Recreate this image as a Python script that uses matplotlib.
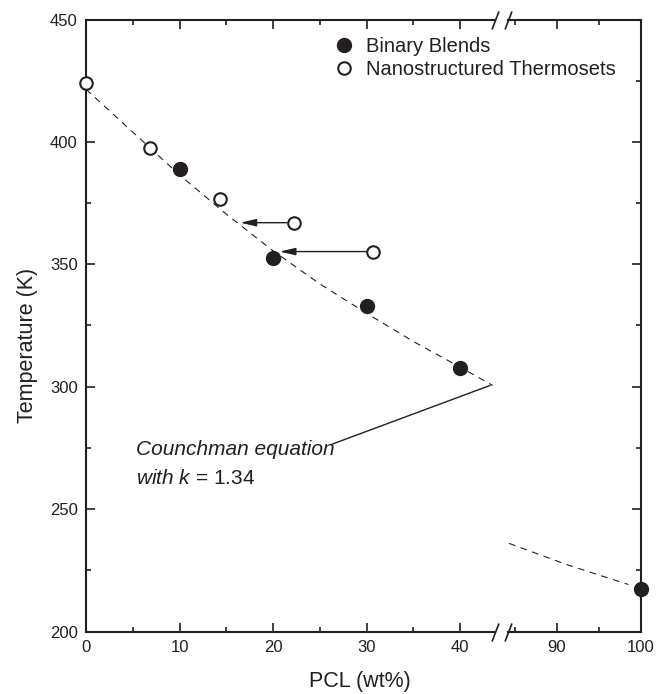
import matplotlib
matplotlib.use("Agg")
import matplotlib.pyplot as plt
import numpy as np
from matplotlib.ticker import MultipleLocator

plt.rcParams["font.family"] = ["Liberation Sans", "DejaVu Sans"]
plt.rcParams["mathtext.fontset"] = "custom"
plt.rcParams["mathtext.it"] = "Liberation Sans:italic"
plt.rcParams["mathtext.rm"] = "Liberation Sans"

INK = "#231f20"

# data
blendPcl = [10, 20, 30, 40, 100]
blendT = [388.8, 352.7, 332.8, 307.5, 217.2]
thermoPcl = [0, 6.8, 14.3, 22.2, 30.7]
thermoT = [424, 397.6, 376.8, 367.0, 355.2]

# Couchman curve (dashed)
curvePclLow = [0, 5, 10, 15, 20, 25, 30, 35, 40, 43.5]
curveTLow = [421.5, 404, 386.5, 370.5, 355.5, 342, 330, 318.5, 308, 300.5]
curvePclHigh = [84.3, 91, 98.5]
curveTHigh = [236, 227.5, 219.2]

# shift arrows: (from, to)
arrowFrom = [(21.5, 367.0), (30.0, 355.2)]
arrowTo = [(16.5, 367.0), (20.7, 355.2)]

xlimLow = (0, 43.74)
xlimHigh = (84.17, 100)

fig = plt.figure(figsize=(6.65, 6.94), dpi=100)
H = 694.0
W = 665.0
bot = 1 - 631.5 / H
hgt = (631.5 - 19.5) / H
axL = fig.add_axes([86 / W, bot, (495 - 86) / W, hgt])
axR = fig.add_axes([508 / W, bot, (641 - 508) / W, hgt], sharey=axL)


def inRange(xs, ys, lim):
    xs = np.asarray(xs)
    ys = np.asarray(ys)
    keep = (xs >= lim[0]) & (xs <= lim[1])
    return xs[keep], ys[keep]


dashStyle = (0, (6, 5))
for ax, lim in ((axL, xlimLow), (axR, xlimHigh)):
    bx, by = inRange(blendPcl, blendT, lim)
    tx, ty = inRange(thermoPcl, thermoT, lim)
    ax.plot(bx, by, "o", color=INK, ms=10, mew=1, clip_on=False,
            label="Binary Blends", zorder=5)
    ax.plot(tx, ty, "o", mfc="white", mec=INK, ms=9, mew=1.5,
            clip_on=False, label="Nanostructured Thermosets", zorder=5)
    for s in ax.spines.values():
        s.set_linewidth(1.5)
        s.set_color(INK)
    ax.tick_params(which="both", direction="in", top=True, right=True,
                   colors=INK, labelsize=12, width=1.2)
    ax.tick_params(which="major", length=6.5, pad=6)
    ax.tick_params(which="minor", length=3.6)
    ax.yaxis.set_major_locator(MultipleLocator(50))
    ax.yaxis.set_minor_locator(MultipleLocator(25))
    ax.xaxis.set_major_locator(MultipleLocator(10))
    ax.xaxis.set_minor_locator(MultipleLocator(5))

axL.plot(curvePclLow, curveTLow, color=INK, lw=0.8, ls=dashStyle, zorder=3)
axR.plot(curvePclHigh, curveTHigh, color=INK, lw=0.8, ls=dashStyle, zorder=3)

axL.set_xlim(*xlimLow)
axR.set_xlim(*xlimHigh)
axL.set_ylim(200, 450)

axL.spines["right"].set_visible(False)
axR.spines["left"].set_visible(False)
axL.tick_params(which="both", right=False)
axR.tick_params(which="both", left=False, labelleft=False)

# break marks
brk = dict(marker=[(-1, -2.6), (1, 2.6)], ms=13, mew=1.2, color=INK,
           ls="none", clip_on=False)
axL.plot([1, 1], [0, 1], transform=axL.transAxes, **brk)
axR.plot([0, 0], [0, 1], transform=axR.transAxes, **brk)

for a, b in zip(arrowFrom, arrowTo):
    axL.annotate("", xy=b, xytext=a,
                 arrowprops=dict(arrowstyle="-|>,head_length=0.95,head_width=0.22",
                                 mutation_scale=10, color=INK, lw=1,
                                 shrinkA=0, shrinkB=0))

# Couchman label
axL.annotate("", xy=(43.2, 300.5), xytext=(26.3, 276.5),
             arrowprops=dict(arrowstyle="-", color=INK, lw=1, shrinkA=0, shrinkB=0))
axL.text(5.4, 274.2, "Counchman equation", style="italic", fontsize=15,
         color=INK, va="center", ha="left")
axL.text(5.4, 262.7, r"$\mathit{with\ k}$ = 1.34", fontsize=15,
         color=INK, va="center", ha="left")

fig.text(27 / W, 1 - 345 / H, "Temperature (K)", fontsize=15.5, color=INK,
         ha="center", va="center", rotation=90)
fig.text(360 / W, 1 - 681 / H, "PCL (wt%)", fontsize=15.5, color=INK,
         ha="center", va="center")

h, l = axL.get_legend_handles_labels()
fig.legend(h, l, loc="upper left", bbox_to_anchor=(316 / W, 1 - 19 / H),
           frameon=False, fontsize=14.5, handlelength=1.0, handletextpad=0.6,
           labelspacing=0.2, borderpad=0.4, labelcolor=INK)

plt.savefig("out.png", dpi=100)
